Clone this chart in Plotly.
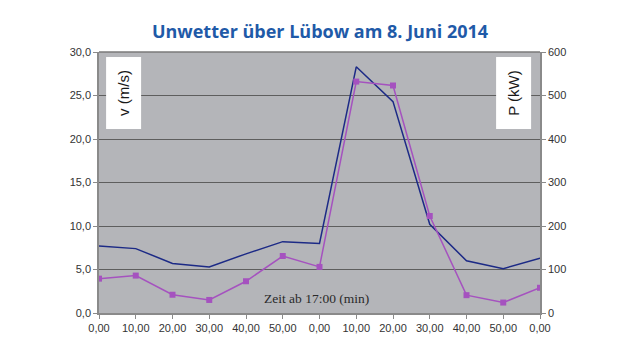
import plotly.graph_objects as go

x_labels = ["0,00", "10,00", "20,00", "30,00", "40,00", "50,00", "0,00",
            "10,00", "20,00", "30,00", "40,00", "50,00", "0,00"]
v_ms = [7.7, 7.4, 5.7, 5.3, 6.8, 8.2, 8.0, 28.3, 24.3, 10.2, 6.0, 5.1, 6.3]
p_kw = [79, 86, 42, 30, 73, 131, 106, 532, 523, 223, 41, 24, 58]
v_ticks = [0, 5, 10, 15, 20, 25, 30]
v_ticktext = ["0,0", "5,0", "10,0", "15,0", "20,0", "25,0", "30,0"]
p_ticks = [0, 100, 200, 300, 400, 500, 600]

xs = list(range(len(x_labels)))
tickfont = dict(family="Liberation Sans, Arial", size=11, color="#333333")

fig = go.Figure()
fig.add_trace(go.Scatter(x=xs, y=v_ms, mode="lines", name="v",
                         line=dict(color="#1c2a86", width=1.5)))
fig.add_trace(go.Scatter(x=xs, y=p_kw, mode="lines+markers", name="P", yaxis="y2",
                         line=dict(color="#a552bf", width=1.5),
                         marker=dict(symbol="square", size=6, color="#a552bf")))

fig.update_layout(
    width=624, height=344,
    margin=dict(l=91, r=92, t=44, b=39),
    paper_bgcolor="white", plot_bgcolor="#b4b5b9",
    showlegend=False,
    title=dict(text="<b>Unwetter über Lübow am 8. Juni 2014</b>",
               x=0.5, xanchor="center", y=0.93, yanchor="middle",
               font=dict(family="Open Sans, Noto Sans", size=18, color="#1f5aa8")),
    xaxis=dict(range=[0, 12], tickvals=xs, ticktext=x_labels, tickfont=tickfont,
               showgrid=False, zeroline=False, showline=True, linecolor="#8a8a8a",
               linewidth=1.5, ticks="outside", ticklen=4, tickcolor="#8a8a8a",
               mirror=False),
    yaxis=dict(range=[0, 30], tickvals=v_ticks, ticktext=v_ticktext, tickfont=tickfont,
               showgrid=True, gridcolor="#5e5e5e", gridwidth=1, zeroline=False,
               showline=True, linecolor="#8a8a8a", linewidth=1.5,
               ticks="outside", ticklen=4, tickcolor="#8a8a8a"),
    yaxis2=dict(range=[0, 600], tickvals=p_ticks, tickfont=tickfont,
                overlaying="y", side="right", showgrid=False, zeroline=False,
                showline=True, linecolor="#8a8a8a", linewidth=1.5,
                ticks="outside", ticklen=4, tickcolor="#8a8a8a"),
    shapes=[dict(type="line", xref="paper", yref="paper", x0=0, x1=1, y0=1, y1=1,
                 line=dict(color="#7a7a7a", width=1.5))],
)

box_font = dict(family="Liberation Sans, Arial", size=15, color="#1a1a1a")
fig.add_annotation(xref="paper", yref="paper", x=0.016, y=0.981, xanchor="left", yanchor="top",
                   text="v (m/s)", textangle=-90, showarrow=False, bgcolor="white",
                   font=box_font, borderpad=4, width=63, height=26)
fig.add_annotation(xref="paper", yref="paper", x=0.982, y=0.981, xanchor="right", yanchor="top",
                   text="P (kW)", textangle=-90, showarrow=False, bgcolor="white",
                   font=box_font, borderpad=4, width=63, height=26)
fig.add_annotation(xref="paper", yref="paper", x=0.494, y=0.057, xanchor="center", yanchor="middle",
                   text="Zeit ab 17:00 (min)", showarrow=False,
                   font=dict(family="Liberation Serif, DejaVu Serif", size=13.5, color="#2a2a2a"))

fig.write_html("out.html")
